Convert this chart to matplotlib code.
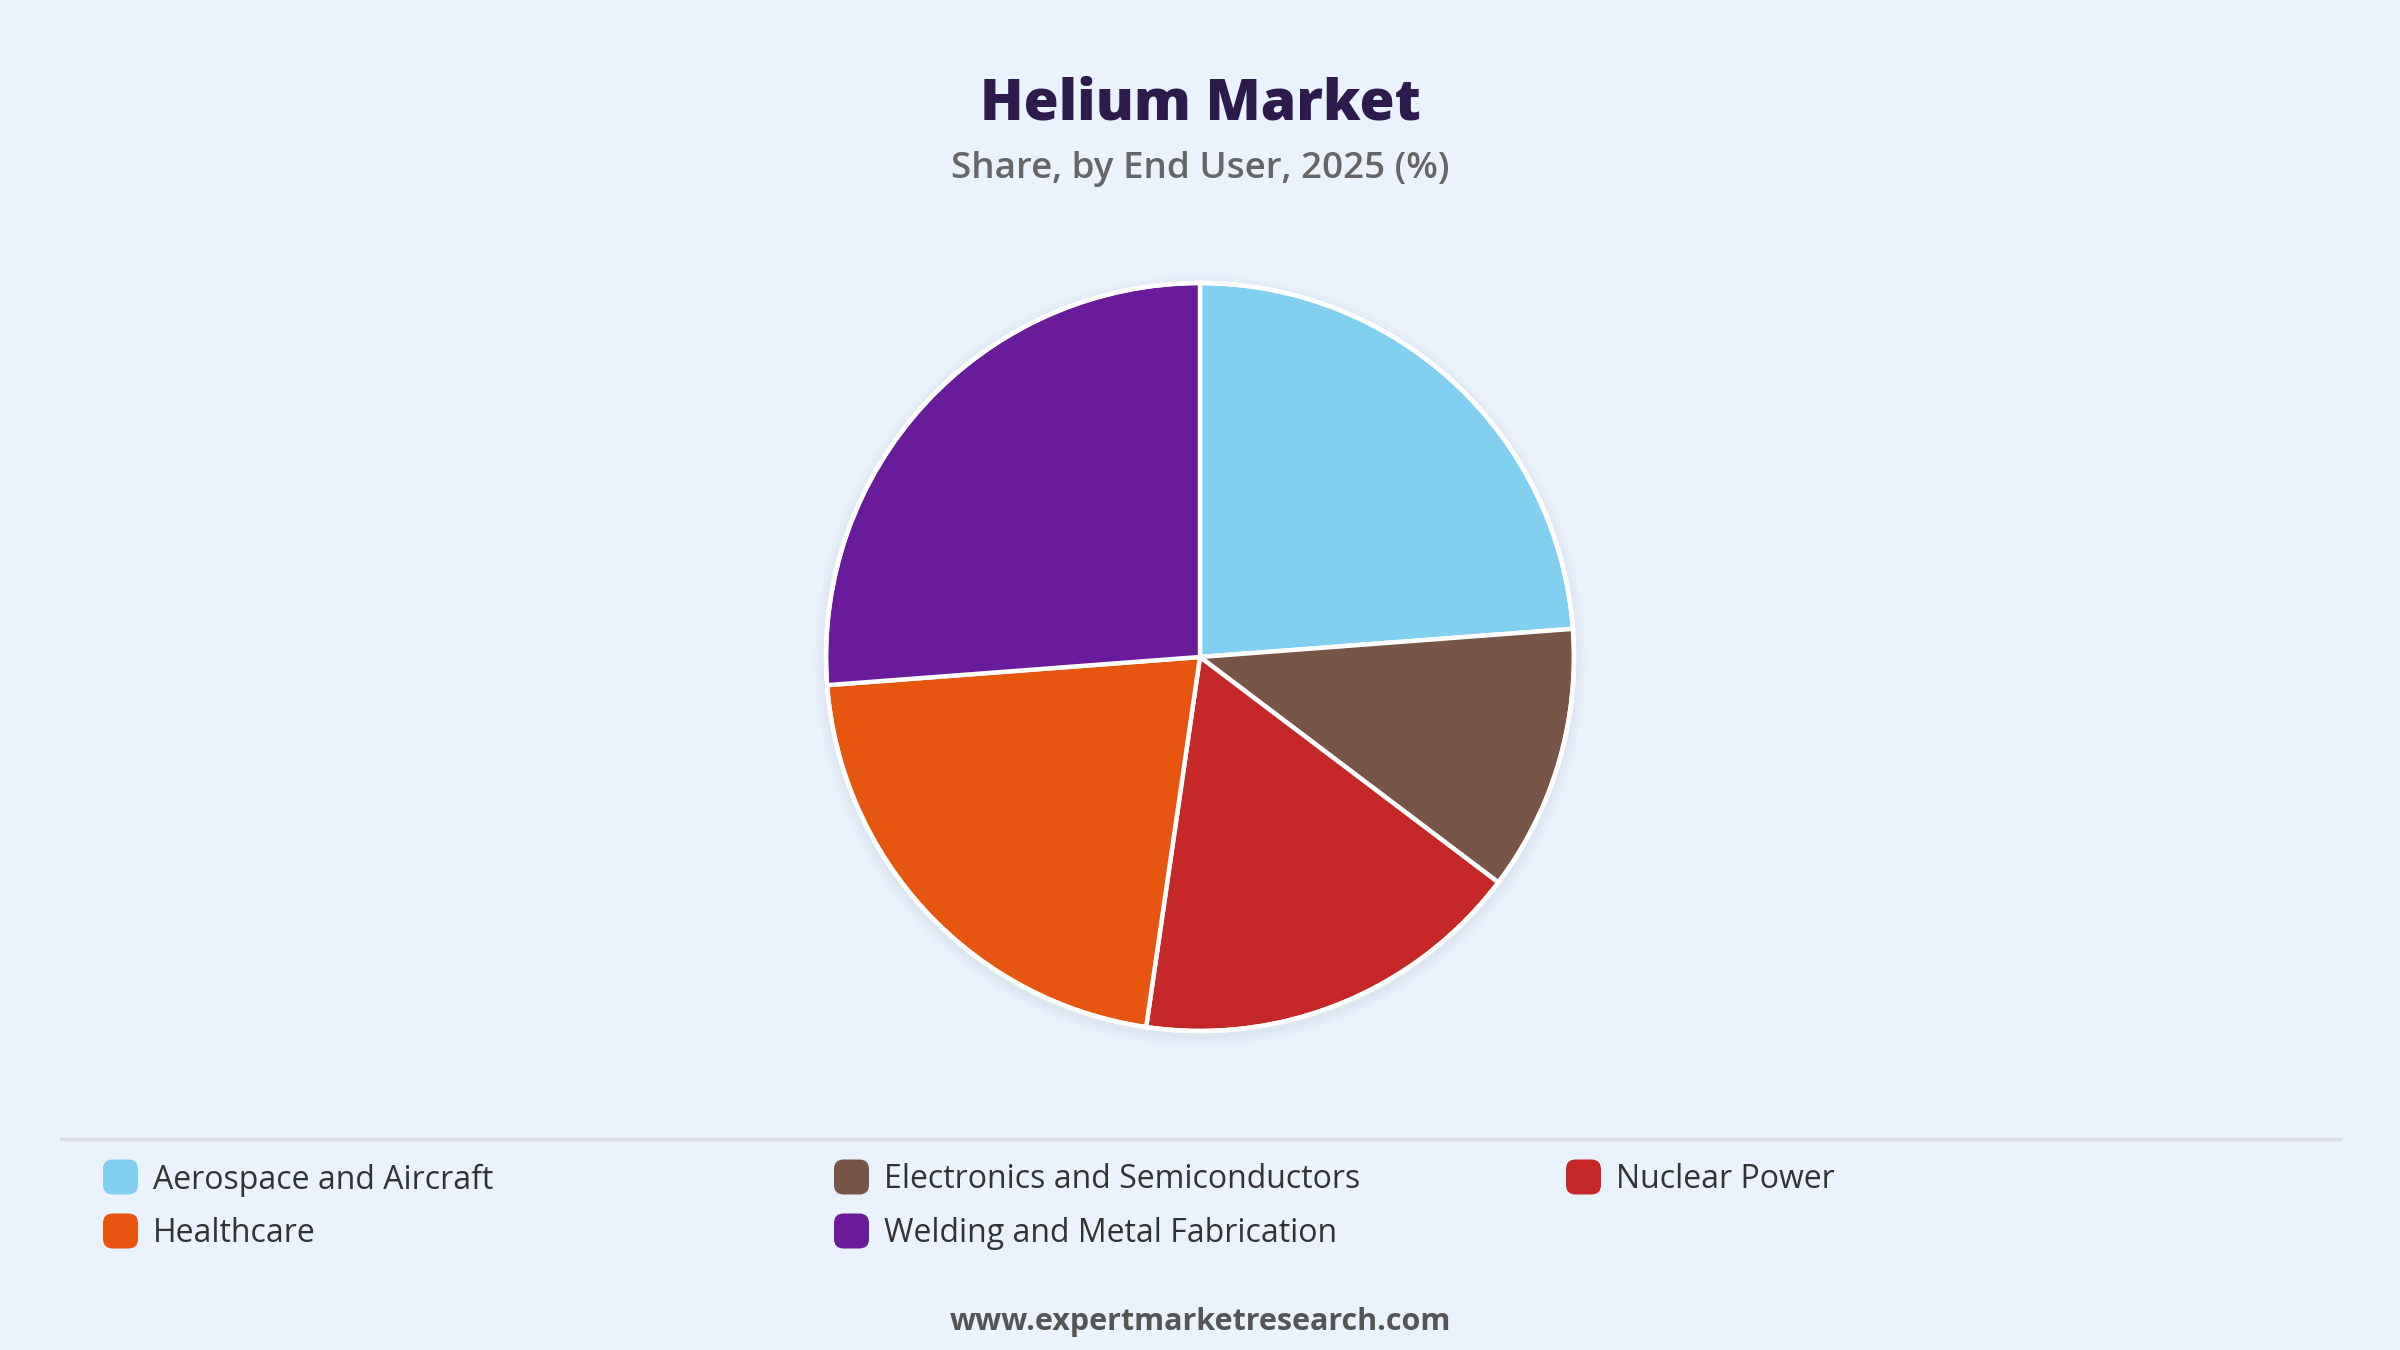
import matplotlib.pyplot as plt
from matplotlib.patches import FancyBboxPatch, Circle

plt.rcParams['font.family'] = ['Open Sans', 'DejaVu Sans']

# share by end user, 2025 (%)
categories = ['Aerospace and Aircraft', 'Electronics and Semiconductors', 'Nuclear Power',
              'Healthcare', 'Welding and Metal Fabrication']
shares = [23.8, 11.5, 17.0, 21.5, 26.2]
colors = ['#81CFF1', '#795548', '#C62828', '#E65610', '#6A1B9A']

bg = '#EAF2FC'
W, H = 2400, 1350
fig = plt.figure(figsize=(24, 13.5), dpi=100, facecolor=bg)

# pie placed by pixel centre/radius
cx, cy, r = 1200, 657, 374
pad = 1.05
ax = fig.add_axes([(cx - r * pad) / W, 1 - (cy + r * pad) / H, 2 * r * pad / W, 2 * r * pad / H])
ax.set_facecolor('none')
# soft shadow under pie
for k, a in [(1.03, 0.04), (1.02, 0.05), (1.01, 0.06)]:
    ax.add_patch(Circle((0.0, -0.01), k, color='#9aaabb', alpha=a, lw=0, zorder=0))
wedges, _ = ax.pie(shares, colors=colors, startangle=90, counterclock=False,
                   wedgeprops=dict(edgecolor='white', linewidth=3.2))
ax.add_patch(Circle((0, 0), 1.0, fill=False, ec='white', lw=3.2, zorder=5))
ax.set_xlim(-pad, pad)
ax.set_ylim(-pad, pad)
ax.set_aspect('equal')
ax.axis('off')

fig.text(0.5, 1 - 105 / H, 'Helium Market', ha='center', va='center',
         fontsize=41, fontweight='heavy', color='#2D1B4E')
fig.text(0.5, 1 - 169 / H, 'Share, by End User, 2025 (%)', ha='center', va='center',
         fontsize=26.5, fontweight='semibold', color='#666666')

# separator line
fig.add_artist(plt.Line2D([61 / W, 2340 / W], [1 - 1139 / H, 1 - 1139 / H],
                          color='#D9DEE4', lw=2.5))

# legend, 3 columns
col_x = [103, 834, 1566]
row_y = [1177, 1231]
sw = 35
for i, (lab, c) in enumerate(zip(categories, colors)):
    x = col_x[i % 3]
    y = row_y[i // 3]
    fig.add_artist(FancyBboxPatch((x / W, 1 - (y + sw / 2) / H), sw / W, sw / H,
                                  boxstyle='round,pad=0,rounding_size=0.004',
                                  transform=fig.transFigure, fc=c, ec='none',
                                  mutation_aspect=W / H))
    fig.text((x + sw + 15) / W, 1 - (y + 3) / H, lab, ha='left', va='center',
             fontsize=23, color='#333333')

fig.text(0.5, 1 - 1322 / H, 'www.expertmarketresearch.com', ha='center', va='center',
         fontsize=22, fontweight='bold', color='#555555')

fig.savefig('out.png', dpi=100, facecolor=bg)
